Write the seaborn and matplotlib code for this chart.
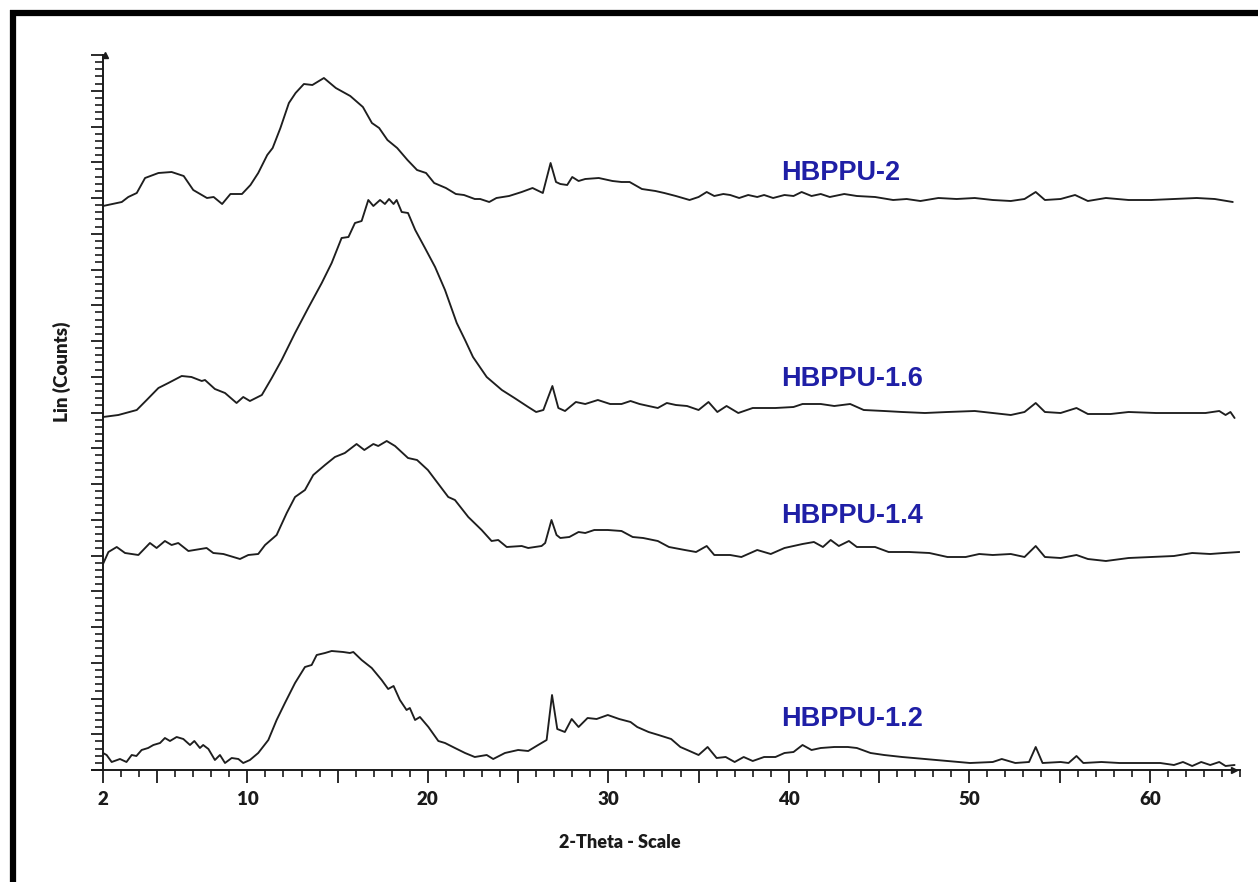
import numpy as np
import pandas as pd
import matplotlib
matplotlib.use("Agg")
import matplotlib.pyplot as plt
from matplotlib.lines import Line2D
from matplotlib.ticker import MultipleLocator
import seaborn as sns

# ---------------- data ----------------
sample_names = ["HBPPU-2", "HBPPU-1.6", "HBPPU-1.4", "HBPPU-1.2"]

theta_hbppu_2 = [2.0, 3.04, 3.4, 3.87, 4.33, 5.07, 5.8, 6.47, 7.0, 7.76, 8.13, 8.6, 9.06, 9.7,
                 10.17, 10.6, 11.1, 11.4, 11.83, 12.3, 12.67, 13.13, 13.6, 14.24, 14.9, 15.7,
                 16.4, 16.9, 17.3, 17.76, 18.3, 18.87, 19.4, 19.9, 20.35, 21.0, 21.55, 22.0,
                 22.6, 22.9, 23.4, 23.8, 24.5, 25.2, 25.8, 26.37, 26.8, 27.1, 27.34, 27.72,
                 28.0, 28.35, 28.72, 29.47, 30.23, 30.73, 31.18, 31.86, 32.61, 33.1, 33.74,
                 34.5, 35.0, 35.45, 35.87, 36.37, 36.75, 37.25, 37.75, 38.25, 38.63, 39.13,
                 39.76, 40.26, 40.71, 41.26, 41.77, 42.27, 43.07, 43.77, 44.78, 45.78, 46.53,
                 47.29, 48.29, 49.3, 50.3, 51.3, 52.3, 53.06, 53.68, 54.19, 55.06, 55.86,
                 56.57, 57.57, 58.83, 60.08, 61.34, 62.6, 63.6, 64.6]
counts_hbppu_2 = [564, 568, 573, 577, 592, 597, 598, 594, 580, 572, 573, 566, 576, 576,
                  585, 597, 615, 622, 642, 667, 677, 686, 685, 692, 682, 674,
                  663, 647, 642, 630, 622, 610, 600, 597, 587, 582, 576, 575,
                  571, 571, 568, 572, 574, 578, 582, 577, 607, 588, 586, 585,
                  593, 589, 591, 592, 589, 588, 588, 581, 579, 577, 574,
                  570, 573, 578, 574, 576, 575, 572, 575, 573, 575, 572,
                  575, 574, 578, 574, 576, 573, 576, 574, 573, 570, 571,
                  569, 572, 571, 572, 570, 569, 571, 578, 570, 571, 575,
                  569, 572, 570, 570, 571, 572, 571, 568]

theta_hbppu_16 = [2.0, 2.85, 3.87, 4.42, 5.07, 5.62, 6.36, 6.9, 7.47, 7.65, 8.2, 8.76, 9.4,
                  9.77, 10.14, 10.8, 11.35, 11.9, 12.64, 13.37, 14.12, 14.67, 15.22, 15.6,
                  15.96, 16.33, 16.7, 16.98, 17.35, 17.62, 17.85, 18.1, 18.27, 18.55, 18.9,
                  19.3, 19.84, 20.4, 20.95, 21.6, 22.06, 22.5, 23.26, 24.1, 24.8, 25.56, 26.0,
                  26.4, 26.9, 27.23, 27.6, 28.2, 28.72, 29.42, 30.1, 30.73, 31.23, 31.73,
                  32.23, 32.74, 33.24, 33.74, 34.36, 35.0, 35.55, 36.04, 36.55, 37.2, 38.0,
                  39.26, 40.26, 40.76, 41.77, 42.52, 43.4, 44.15, 45.28, 46.28, 47.54, 48.79,
                  50.3, 51.3, 52.3, 53.06, 53.68, 54.19, 55.06, 55.94, 56.57, 57.83, 58.83,
                  60.34, 61.84, 63.09, 63.85, 64.2, 64.47, 64.7]
counts_hbppu_16 = [353, 355, 360, 370, 382, 387, 394, 393, 389, 390, 381, 377, 367,
                   373, 369, 375, 392, 410, 437, 462, 487, 507, 532, 533,
                   547, 549, 570, 564, 570, 566, 571, 566, 570, 558, 557,
                   540, 522, 503, 480, 447, 430, 413, 393, 380, 372, 363, 358,
                   360, 384, 362, 359, 368, 366, 370, 366, 366, 369, 366,
                   364, 362, 367, 365, 364, 360, 368, 358, 364, 357, 362,
                   362, 363, 366, 366, 364, 366, 360, 359, 358, 357, 358,
                   359, 357, 355, 358, 367, 358, 357, 362, 356, 356, 358,
                   357, 357, 357, 359, 355, 358, 352]

theta_hbppu_14 = [2.0, 2.3, 2.76, 3.22, 3.96, 4.6, 4.97, 5.43, 5.8, 6.17, 6.73, 7.74, 8.11,
                  8.67, 9.59, 10.05, 10.6, 10.98, 11.62, 12.18, 12.64, 13.19, 13.65, 14.3,
                  14.85, 15.4, 16.05, 16.48, 16.98, 17.25, 17.72, 18.18, 18.9, 19.4, 20.0,
                  21.13, 21.5, 22.24, 22.98, 23.53, 23.9, 24.37, 25.2, 25.56, 26.3, 26.5,
                  26.85, 27.13, 27.34, 27.84, 28.35, 28.72, 29.22, 29.97, 30.73, 31.35, 31.93,
                  32.74, 33.36, 34.24, 34.86, 35.45, 35.87, 36.75, 37.37, 38.25, 39.0, 39.76,
                  40.76, 41.39, 41.89, 42.32, 42.77, 43.33, 43.77, 44.78, 45.53, 46.66, 47.79,
                  48.79, 49.8, 50.55, 51.3, 52.3, 53.06, 53.68, 54.19, 55.06, 55.94, 56.57,
                  57.57, 58.83, 60.08, 61.34, 62.35, 63.35, 64.1, 64.97]
counts_hbppu_14 = [206, 218, 223, 217, 215, 227, 222, 229, 225, 227, 219, 222, 217,
                   216, 211, 215, 216, 225, 235, 257, 273, 280, 295, 305,
                   313, 317, 326, 320, 326, 324, 329, 324, 312, 310, 300,
                   273, 270, 253, 240, 229, 230, 223, 224, 222, 224, 227,
                   250, 235, 232, 233, 238, 237, 240, 240, 239, 233, 232,
                   229, 223, 220, 218, 224, 215, 215, 213, 220, 216, 222,
                   226, 228, 223, 230, 224, 229, 223, 223, 218, 218, 217,
                   213, 213, 216, 215, 216, 213, 224, 213, 212, 215, 211,
                   209, 212, 213, 214, 217, 216, 217, 218]

theta_hbppu_12 = [2.0, 2.2, 2.48, 2.94, 3.3, 3.59, 3.85, 4.14, 4.5, 4.79, 5.16, 5.43, 5.71,
                  6.08, 6.45, 6.82, 7.06, 7.37, 7.55, 7.84, 8.2, 8.48, 8.76, 9.13, 9.5, 9.77,
                  10.14, 10.6, 11.16, 11.62, 12.08, 12.64, 13.19, 13.56, 13.84, 14.3, 14.67,
                  15.31, 15.68, 15.87, 16.33, 16.89, 17.44, 17.8, 18.1, 18.45, 18.82, 19.0,
                  19.29, 19.56, 20.03, 20.58, 20.95, 21.5, 22.06, 22.6, 23.26, 23.62, 24.27,
                  25.0, 25.56, 26.11, 26.58, 26.88, 27.17, 27.59, 27.97, 28.35, 28.85, 29.35,
                  29.97, 30.6, 31.23, 31.6, 32.23, 32.78, 33.48, 33.99, 34.5, 35.0, 35.5, 36.0,
                  36.5, 37.0, 37.5, 38.0, 38.63, 39.26, 39.76, 40.26, 40.76, 41.26, 41.77,
                  42.52, 43.27, 43.77, 44.53, 45.28, 46.28, 47.54, 48.79, 50.04, 51.3, 51.8,
                  52.55, 53.31, 53.68, 54.06, 55.06, 55.5, 55.94, 56.32, 57.32, 58.32, 59.33,
                  60.58, 61.34, 61.84, 62.35, 62.85, 63.35, 63.85, 64.2, 64.7]
counts_hbppu_12 = [17, 15, 8, 11, 8, 15, 14, 20, 22, 25, 27, 32, 29,
                   33, 31, 25, 29, 22, 25, 21, 10, 15, 7, 12, 11, 7,
                   10, 17, 30, 50, 67, 87, 103, 105, 115, 117, 119,
                   118, 117, 118, 110, 102, 90, 81, 84, 70, 60, 62,
                   50, 53, 43, 29, 27, 22, 17, 13, 15, 11, 17,
                   20, 19, 25, 30, 75, 41, 38, 51, 43, 52, 51,
                   55, 51, 48, 43, 38, 35, 31, 23, 19, 15, 23, 12,
                   13, 8, 13, 9, 13, 13, 17, 18, 25, 20, 22,
                   23, 23, 22, 17, 15, 13, 11, 9, 7, 8, 11,
                   7, 8, 23, 7, 8, 7, 14, 7, 8, 7, 7,
                   7, 5, 8, 4, 8, 5, 8, 4, 5]

x_tick_values = [2, 5, 10, 15, 20, 25, 30, 35, 40, 45, 50, 55, 60]
x_tick_labels = ["2", "", "10", "", "20", "", "30", "", "40", "", "50", "", "60"]

# ---------------- build long table ----------------
frames = []
for name, th, ct in zip(sample_names,
                        [theta_hbppu_2, theta_hbppu_16, theta_hbppu_14, theta_hbppu_12],
                        [counts_hbppu_2, counts_hbppu_16, counts_hbppu_14, counts_hbppu_12]):
    frames.append(pd.DataFrame({"two_theta": th, "counts": ct, "sample": name}))
df = pd.concat(frames, ignore_index=True)

# ---------------- style ----------------
sns.set_theme(style="ticks")
plt.rcParams["font.family"] = ["Lato", "DejaVu Sans"]

W, H = 1258, 882
fig = plt.figure(figsize=(W / 100, H / 100), dpi=100)
fig.patch.set_facecolor("white")
ax = fig.add_axes([92 / W, 112 / H, (1240 - 92) / W, 715 / H])
ax.set_facecolor("white")

sns.lineplot(data=df, x="two_theta", y="counts", hue="sample", units="sample",
             estimator=None, palette=["#1e1e1e"] * 4, legend=False,
             linewidth=1.35, ax=ax)

ax.set_xlim(1.39, 65.0)
ax.set_ylim(0, 715)

for s in ["top", "right"]:
    ax.spines[s].set_visible(False)
ax.spines["left"].set_position(("data", 2))
for s in ["left", "bottom"]:
    ax.spines[s].set_color("#1a1a1a")
    ax.spines[s].set_linewidth(1.4)

ax.set_xticks(x_tick_values)
ax.set_xticklabels(x_tick_labels)
ax.set_xticks(np.arange(3, 66), minor=True)
ax.tick_params(axis="x", which="major", bottom=True, direction="out", length=9, width=1.3,
               color="#1a1a1a", labelsize=13.5, pad=6, labelcolor="#1a1a1a")
ax.tick_params(axis="x", which="minor", bottom=True, direction="out", length=5, width=1.2,
               color="#1a1a1a")
for lab in ax.get_xticklabels():
    lab.set_fontweight("heavy")

ax.yaxis.set_major_locator(MultipleLocator(35.75))
ax.yaxis.set_minor_locator(MultipleLocator(7.15))
ax.tick_params(axis="y", which="major", left=True, direction="out", length=8.5, width=1.3,
               color="#1a1a1a", labelleft=False)
ax.tick_params(axis="y", which="minor", left=True, direction="out", length=5.5, width=1.2,
               color="#1a1a1a")

# axis arrows
ax.plot(2.12, 1.0, marker="^", color="#1a1a1a", markersize=5,
        transform=ax.get_xaxis_transform(), clip_on=False)
ax.plot(0.995, 0.0, marker=">", color="#1a1a1a", markersize=5,
        transform=ax.get_yaxis_transform(), clip_on=False)

ax.set_xlabel("2-Theta - Scale", fontsize=13, fontweight="heavy", color="#1a1a1a")
ax.set_ylabel("Lin (Counts)", fontsize=13.5, fontweight="heavy", color="#1a1a1a")
ax.xaxis.set_label_coords(620 / W, 1 - 843 / H, transform=fig.transFigure)
ax.yaxis.set_label_coords(62 / W, 1 - 372 / H, transform=fig.transFigure)
ax.xaxis.label.set_verticalalignment("center")
ax.yaxis.label.set_verticalalignment("center")

# sample labels
label_baselines = [590, 384, 247, 44]
for name, yb in zip(sample_names, label_baselines):
    ax.text(39.56, yb, name, color="#1f1fa6", fontsize=19.5, fontweight="bold",
            family=["Liberation Sans", "DejaVu Sans"], ha="left", va="baseline")

# black frame lines (top and left)
fig.add_artist(Line2D([10 / W, 1.0], [1 - 13 / H, 1 - 13 / H], color="black",
                      linewidth=4.5, transform=fig.transFigure, solid_capstyle="butt"))
fig.add_artist(Line2D([13 / W, 13 / W], [0.0, 1 - 10 / H], color="black",
                      linewidth=4.5, transform=fig.transFigure, solid_capstyle="butt"))

fig.savefig("out.png", dpi=100, facecolor="white")
